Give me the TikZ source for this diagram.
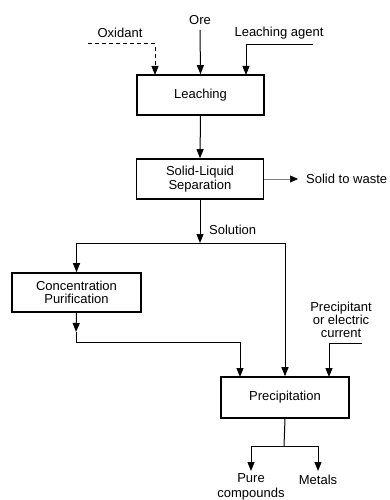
\documentclass[tikz,border=0pt]{standalone}
\usepackage{fontspec}
\setmainfont{Liberation Sans}
\usetikzlibrary{arrows.meta}
\begin{document}
\begin{tikzpicture}[x=1pt,y=-1pt,
  font=\fontsize{13}{13.3}\selectfont,
  box/.style={draw,line width=1.6pt,rectangle,minimum width=127pt,minimum height=40pt,align=center,inner sep=0pt},
  lbl/.style={inner sep=0pt,align=center},
  conn/.style={line width=1pt},
  arr/.style={conn,-{Triangle[length=9pt,width=7pt]}}]
\useasboundingbox (0,0) rectangle (390,500);
% boxes
\node[box] (leach) at (200.5,95) {Leaching};
\node[box] (sep) at (200,179) {Solid-Liquid\\Separation};
\node[box,minimum width=129pt,minimum height=39pt] (conc) at (76.5,292.5) {Concentration\\Purification};
\node[box,minimum width=128pt,minimum height=41pt] (prec) at (285,397.5) {Precipitation};
% labels
\node[lbl] (ore) at (200,20) {Ore};
\node[lbl] (oxid) at (120,33) {Oxidant};
\node[lbl] (agent) at (279,33) {Leaching agent};
\node[lbl,anchor=west] (waste) at (306,179) {Solid to waste};
\node[lbl,anchor=west] (solution) at (209,230) {Solution};
\node[lbl,font=\fontsize{13}{13.3}\selectfont] (precip) at (341,320) {Precipitant\\or electric\\current};
\node[lbl,font=\fontsize{13}{14.5}\selectfont] (pure) at (251,487) {Pure\\compounds};
\node[lbl] (metals) at (318,480) {Metals};
% coordinates
\coordinate (oxs) at (88,44);
\coordinate (oxe) at (155,75);
\coordinate (ags) at (313,45);
\coordinate (age) at (246,75);
\coordinate (split) at (200,243);
\coordinate (cmid) at (76,332);
\coordinate (cbot) at (76,342);
\coordinate (cin) at (240,377);
\coordinate (pcs) at (362,343);
\coordinate (pce) at (329,377);
\coordinate (split2) at (284,446);
\coordinate (pureA) at (251,471);
\coordinate (metA) at (318,471);
% connectors
\draw[arr] (ore.south) ++(0,5) -- (leach.north);
\draw[arr,dashed,dash pattern=on 4pt off 3pt] (oxs) -| (oxe);
\draw[arr] (ags) -| (age);
\draw[arr] (leach.south) -- (sep.north);
\draw[line width=0.6pt,gray,-{Triangle[length=8pt,width=7pt,color=black]}] (sep.east) -- ([xshift=-8pt]waste.west);
\draw[arr] (sep.south) -- (split);
\draw[arr] (split) -| (conc.north);
\draw[arr] (split) -| (prec.north);
\draw[arr] (conc.south) -- (cmid);
\draw[arr] (cmid) -- (cbot) -| (cin);
\draw[arr] (pcs) -| (pce);
\draw[conn] (prec.south) -- (split2);
\draw[arr] (split2) -| (pureA);
\draw[arr] (split2) -| (metA);
\end{tikzpicture}
\end{document}
